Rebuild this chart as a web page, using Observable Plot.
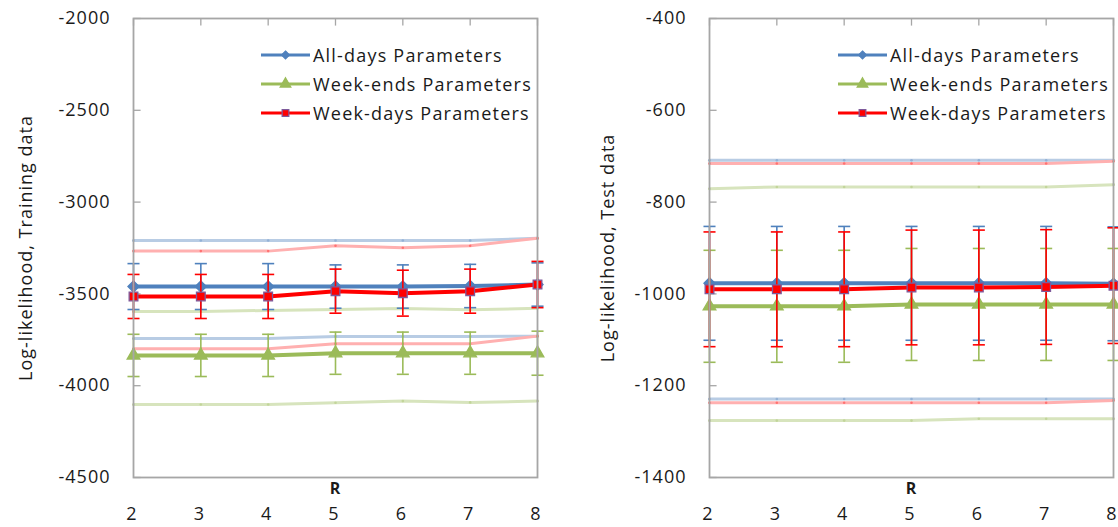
<!DOCTYPE html>
<html>
<head>
<meta charset="utf-8">
<script src="https://cdn.jsdelivr.net/npm/d3@7"></script>
<script src="https://cdn.jsdelivr.net/npm/@observablehq/plot@0.6"></script>
<style>
  html, body { margin: 0; padding: 0; background: #fff; overflow: hidden; }
  #wrap { position: relative; width: 1118px; height: 527px; overflow: hidden; }
  .panel { position: absolute; top: 0; }
  .panel svg text { letter-spacing: 1px; }
  .legend { position: absolute; font: 18px "Open Sans"; letter-spacing: 1.2px; color: #1a1a1a; }
  .legend .row { display: flex; align-items: center; height: 29px; white-space: nowrap; }
  .legend svg { display: block; }
</style>
</head>
<body>
<div id="wrap"></div>
<script>
// Number of mixture components on the x axis
const R = [2, 3, 4, 5, 6, 7, 8];

// Training data: mean log-likelihood, error half-width, upper and lower envelope
const allTrain    = [-3460, -3460, -3460, -3460, -3460, -3457, -3449];
const allTrainErr = [125, 125, 125, 118, 118, 118, 118];
const allTrainHi  = [-3209, -3209, -3209, -3209, -3209, -3209, -3197];
const allTrainLo  = [-3743, -3743, -3743, -3732, -3732, -3732, -3730];

const endTrain    = [-3835, -3835, -3835, -3823, -3823, -3823, -3823];
const endTrainErr = [115, 115, 115, 115, 115, 115, 120];
const endTrainHi  = [-3596, -3596, -3590, -3585, -3579, -3587, -3578];
const endTrainLo  = [-4102, -4102, -4102, -4093, -4084, -4091, -4084];

const dayTrain    = [-3514, -3514, -3514, -3485, -3496, -3485, -3449];
const dayTrainErr = [120, 120, 120, 120, 125, 120, 126];
const dayTrainHi  = [-3267, -3267, -3267, -3238, -3249, -3238, -3197];
const dayTrainLo  = [-3799, -3799, -3799, -3772, -3772, -3772, -3730];

// Test data
const allTest    = [-977, -977, -977, -977, -977, -977, -978];
const allTestErr = [124, 124, 124, 124, 124, 124, 124];
const allTestHi  = [-709, -709, -709, -709, -709, -709, -709];
const allTestLo  = [-1229, -1229, -1229, -1229, -1229, -1229, -1229];

const endTest    = [-1027, -1027, -1027, -1023, -1023, -1023, -1023];
const endTestErr = [122, 122, 122, 122, 122, 122, 122];
const endTestHi  = [-771, -767, -767, -767, -767, -767, -762];
const endTestLo  = [-1276, -1276, -1276, -1276, -1272, -1272, -1272];

const dayTest    = [-990, -990, -990, -986, -986, -985, -982];
const dayTestErr = [125, 125, 125, 125, 125, 125, 126];
const dayTestHi  = [-716, -716, -716, -716, -716, -716, -711];
const dayTestLo  = [-1237, -1237, -1237, -1237, -1237, -1237, -1232];

// Axis ticks
const trainTicks = [-4500, -4000, -3500, -3000, -2500, -2000];
const testTicks  = [-1400, -1200, -1000, -800, -600, -400];

// Series styling
const series = [
  { name: "All-days Parameters",  color: "#4F81BD", light: "#B8CCE4", symbol: "diamond2", r: 5.0, edge: "#4F81BD", d3sym: d3.symbolDiamond2, lsize: 40 },
  { name: "Week-ends Parameters", color: "#9BBB59", light: "#D7E4BD", symbol: "triangle", r: 4.7, edge: "#9BBB59", d3sym: d3.symbolTriangle, lsize: 50 },
  { name: "Week-days Parameters", color: "#FF0000", light: "#FFB0B0", symbol: "square",   r: 4.9, edge: "#7E5A9B", d3sym: d3.symbolSquare,   lsize: 45 }
];

// Custom glyphs: horizontal error-bar cap, inward-pointing axis ticks
const capGlyph   = { draw(ctx, size) { const w = Math.sqrt(size) / 2; ctx.moveTo(-w, 0); ctx.lineTo(w, 0); } };
const downGlyph  = { draw(ctx, size) { const h = Math.sqrt(size); ctx.moveTo(0, 0); ctx.lineTo(0, h); } };
const rightGlyph = { draw(ctx, size) { const h = Math.sqrt(size); ctx.moveTo(0, 0); ctx.lineTo(h, 0); } };

function rowsFor(mean, err, hi, lo) {
  return R.map((r, i) => ({ r, v: mean[i], e: err[i], hi: hi[i], lo: lo[i] }));
}

function panel({ data, yDomain, yTicks, yLabel, marginLeft, marginRight, titleDx }) {
  const marks = [];
  // faint envelope lines
  data.forEach((rows, k) => {
    const s = series[k];
    for (const key of ["hi", "lo"]) {
      marks.push(Plot.line(rows, { x: "r", y: key, stroke: s.light, strokeWidth: 3 }));
      marks.push(Plot.dot(rows, { x: "r", y: key, r: 1.3, fill: s.color, fillOpacity: 0.35 }));
    }
  });
  // error bars, main line, markers
  data.forEach((rows, k) => {
    const s = series[k];
    marks.push(Plot.ruleX(rows, { x: "r", y1: d => d.v - d.e, y2: d => d.v + d.e, stroke: s.color, strokeWidth: 1.6 }));
    marks.push(Plot.dot(rows, { x: "r", y: d => d.v + d.e, symbol: capGlyph, r: 6.8, fill: "none", stroke: s.color, strokeWidth: 1.6 }));
    marks.push(Plot.dot(rows, { x: "r", y: d => d.v - d.e, symbol: capGlyph, r: 6.8, fill: "none", stroke: s.color, strokeWidth: 1.6 }));
    marks.push(Plot.line(rows, { x: "r", y: "v", stroke: s.color, strokeWidth: 4 }));
    marks.push(Plot.dot(rows, { x: "r", y: "v", symbol: s.symbol, r: s.r, fill: s.color, stroke: s.edge, strokeWidth: 1.3 }));
  });

  return Plot.plot({
    width: 559,
    height: 527,
    marginTop: 18,
    marginBottom: 50,
    marginLeft,
    marginRight,
    style: { fontFamily: "Open Sans", fontSize: "18px", color: "#1a1a1a", background: "transparent", overflow: "visible" },
    x: { domain: [2, 8], ticks: R },
    y: { domain: yDomain, ticks: yTicks },
    marks: [
      Plot.axisY({ ticks: yTicks, tickSize: 0, tickPadding: 23, label: null, tickFormat: d => String(d) }),
      Plot.axisX({ anchor: "bottom", ticks: R, tickSize: 0, tickPadding: 30, label: null, dx: -1.5, tickFormat: d => String(d) }),
      Plot.dot(R, { x: d => d, frameAnchor: "top", symbol: downGlyph, r: 4, fill: "none", stroke: "#a6a6a6", strokeWidth: 1.3 }),
      Plot.dot(yTicks, { y: d => d, frameAnchor: "left", symbol: rightGlyph, r: 4, fill: "none", stroke: "#a6a6a6", strokeWidth: 1.3 }),
      ...marks,
      Plot.frame({ stroke: "#a6a6a6", strokeWidth: 1.8 }),
      Plot.text(["R"], { frameAnchor: "bottom", dy: 16, fontWeight: "bold", fontSize: 16, fill: "#1a1a1a" }),
      Plot.text([yLabel], { frameAnchor: "left", textAnchor: "middle", dx: titleDx, rotate: -90, fontSize: 18, fill: "#1a1a1a" })
    ]
  });
}

const wrap = d3.select("#wrap");

const trainData = [
  rowsFor(allTrain, allTrainErr, allTrainHi, allTrainLo),
  rowsFor(endTrain, endTrainErr, endTrainHi, endTrainLo),
  rowsFor(dayTrain, dayTrainErr, dayTrainHi, dayTrainLo)
];
const testData = [
  rowsFor(allTest, allTestErr, allTestHi, allTestLo),
  rowsFor(endTest, endTestErr, endTestHi, endTestLo),
  rowsFor(dayTest, dayTestErr, dayTestHi, dayTestLo)
];

const left = panel({
  data: trainData, yDomain: [-4500, -2000], yTicks: trainTicks,
  yLabel: "Log-likelihood, Training data", marginLeft: 133, marginRight: 22, titleDx: -107
});
const right = panel({
  data: testData, yDomain: [-1400, -400], yTicks: testTicks,
  yLabel: "Log-likelihood, Test data", marginLeft: 150, marginRight: 5, titleDx: -101
});

wrap.append("div").attr("class", "panel").style("left", "0px").node().append(left);
wrap.append("div").attr("class", "panel").style("left", "559px").node().append(right);

// Legend inside each panel
function legend(x) {
  const box = wrap.append("div").attr("class", "legend").style("left", x + "px").style("top", "40px");
  series.forEach(s => {
    const row = box.append("div").attr("class", "row");
    const svg = row.append("svg").attr("width", 49).attr("height", 16);
    svg.append("line").attr("x1", 0).attr("x2", 49).attr("y1", 8).attr("y2", 8)
      .attr("stroke", s.color).attr("stroke-width", 3);
    svg.append("path").attr("transform", "translate(24.5,8)")
      .attr("d", d3.symbol(s.d3sym, s.lsize)())
      .attr("fill", s.color).attr("stroke", s.edge).attr("stroke-width", 1.2);
    row.append("span").style("margin-left", "3px").text(s.name);
  });
}
legend(261);
legend(838);
</script>
</body>
</html>
